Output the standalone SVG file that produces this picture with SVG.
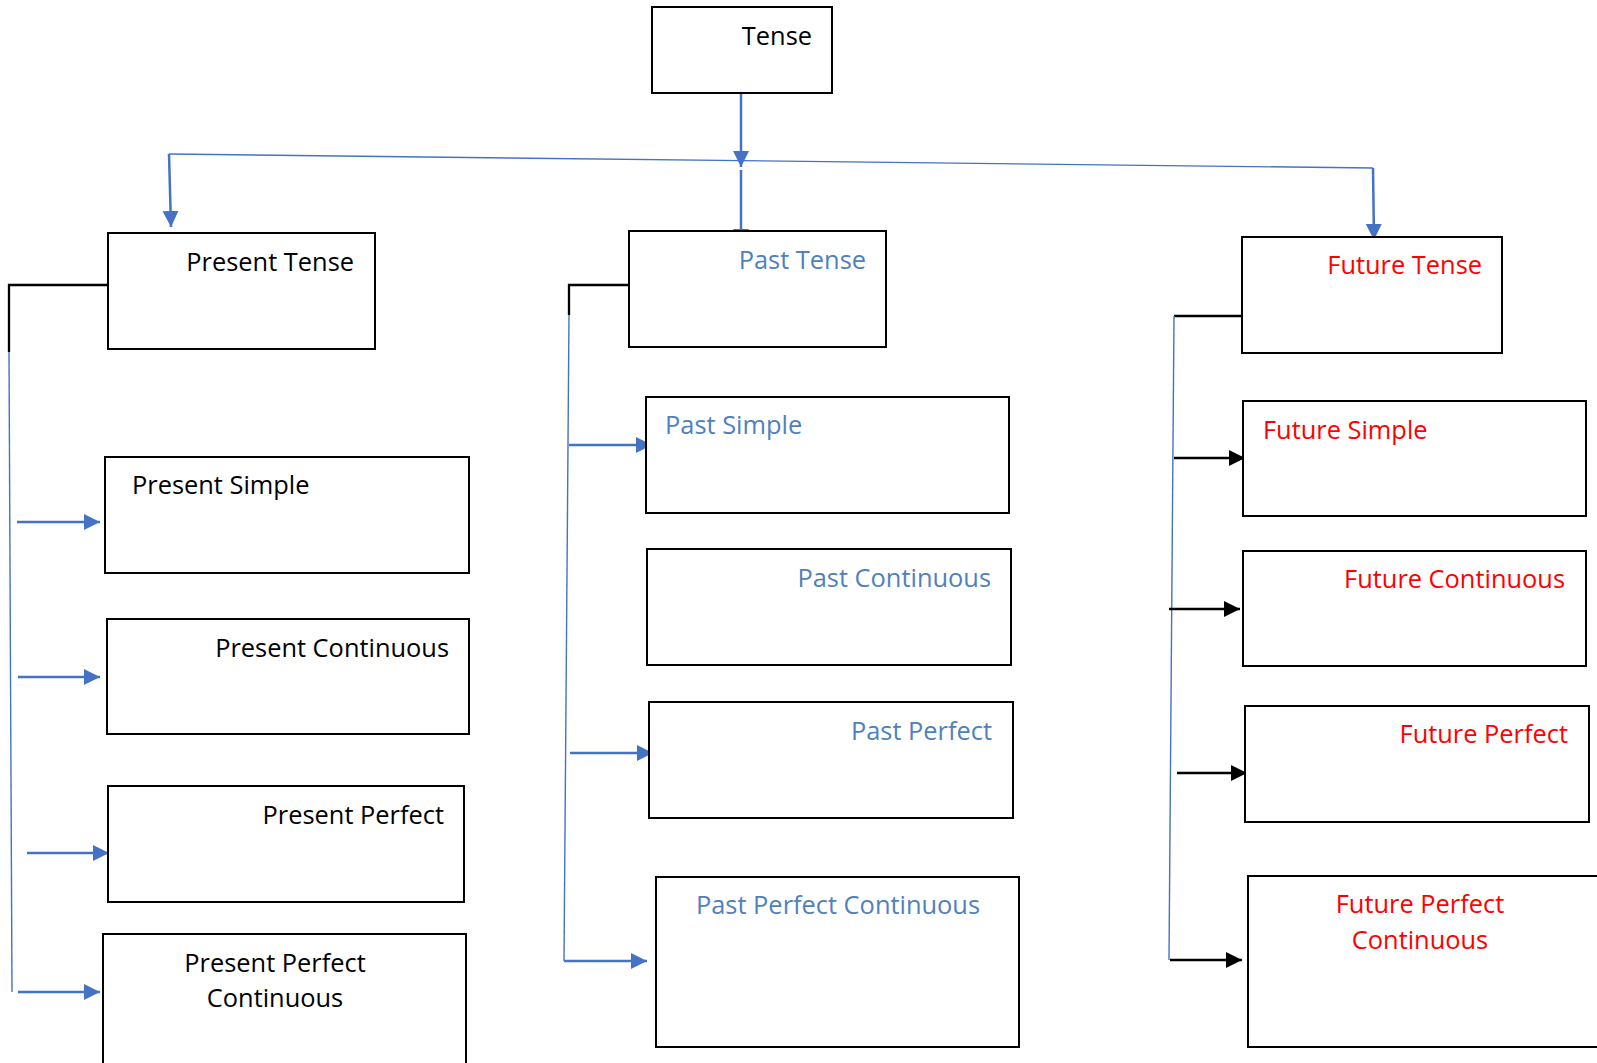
<svg xmlns="http://www.w3.org/2000/svg" width="1597" height="1063" viewBox="0 0 1597 1063">
<style>
.box{fill:#fff;stroke:#000;stroke-width:2}
.t{font-family:"Open Sans","Noto Sans",sans-serif;font-size:25.4px}
.k{fill:#000}.b{fill:#4F81BD}.r{fill:#FF0000}
.cb{fill:none;stroke:#4472C4;stroke-width:2.5}
.cbt{fill:none;stroke:#4472C4;stroke-width:1.4}
.ck{fill:none;stroke:#000;stroke-width:2.3}
</style>
<defs>
<marker id="ab" markerUnits="userSpaceOnUse" markerWidth="17" markerHeight="17" viewBox="0 0 17 17" refX="16" refY="8.5" orient="auto"><path d="M0,0.5 L16,8.5 L0,16.5 Z" fill="#4472C4"/></marker>
<marker id="ak" markerUnits="userSpaceOnUse" markerWidth="17" markerHeight="17" viewBox="0 0 17 17" refX="16" refY="8.5" orient="auto"><path d="M0,0.5 L16,8.5 L0,16.5 Z" fill="#000"/></marker>
</defs>
<g id="connectors">
<line class="cb" x1="741" y1="93" x2="741" y2="167" marker-end="url(#ab)"/>
<line class="cbt" x1="169" y1="154" x2="1373" y2="168"/>
<line class="cb" x1="169" y1="154" x2="171" y2="227" marker-end="url(#ab)"/>
<line class="cb" x1="741" y1="170" x2="741" y2="245" marker-end="url(#ab)"/>
<line class="cb" x1="1373" y1="168" x2="1374" y2="240" marker-end="url(#ab)"/>
<polyline class="ck" points="108,285 9,285 9,352"/>
<line class="cbt" x1="9" y1="352" x2="12" y2="992"/>
<line class="cb" x1="17" y1="522" x2="100" y2="522" marker-end="url(#ab)"/>
<line class="cb" x1="18" y1="677" x2="100" y2="677" marker-end="url(#ab)"/>
<line class="cb" x1="27" y1="853" x2="109" y2="853" marker-end="url(#ab)"/>
<line class="cb" x1="18" y1="992" x2="100" y2="992" marker-end="url(#ab)"/>
<polyline class="ck" points="629,285 569,285 569,315"/>
<line class="cbt" x1="569" y1="315" x2="564" y2="961"/>
<line class="cb" x1="569" y1="445" x2="652" y2="445" marker-end="url(#ab)"/>
<line class="cb" x1="570" y1="753" x2="653" y2="753" marker-end="url(#ab)"/>
<line class="cb" x1="564" y1="961" x2="647" y2="961" marker-end="url(#ab)"/>
<line class="ck" x1="1242" y1="316" x2="1174" y2="316"/>
<line class="cbt" x1="1174" y1="316" x2="1169" y2="960"/>
<line class="ck" x1="1174" y1="458" x2="1245" y2="458" marker-end="url(#ak)"/>
<line class="ck" x1="1169" y1="609" x2="1240" y2="609" marker-end="url(#ak)"/>
<line class="ck" x1="1177" y1="773" x2="1247" y2="773" marker-end="url(#ak)"/>
<line class="ck" x1="1170" y1="960" x2="1242" y2="960" marker-end="url(#ak)"/>
</g>
<g id="tense"><rect class="box" x="652" y="7" width="180" height="86"/><text class="t k" x="812" y="45" text-anchor="end">Tense</text></g>
<g id="present-tense"><rect class="box" x="108" y="233" width="267" height="116"/><text class="t k" x="354" y="271" text-anchor="end">Present Tense</text></g>
<g id="present-simple"><rect class="box" x="105" y="457" width="364" height="116"/><text class="t k" x="132" y="494">Present Simple</text></g>
<g id="present-continuous"><rect class="box" x="107" y="619" width="362" height="115"/><text class="t k" x="449" y="657" text-anchor="end">Present Continuous</text></g>
<g id="present-perfect"><rect class="box" x="108" y="786" width="356" height="116"/><text class="t k" x="444" y="824" text-anchor="end">Present Perfect</text></g>
<g id="present-perfect-continuous"><rect class="box" x="103" y="934" width="363" height="140"/><text class="t k" x="275" y="972" text-anchor="middle">Present Perfect</text><text class="t k" x="275" y="1007" text-anchor="middle">Continuous</text></g>
<g id="past-tense"><rect class="box" x="629" y="231" width="257" height="116"/><text class="t b" x="866" y="269" text-anchor="end">Past Tense</text></g>
<g id="past-simple"><rect class="box" x="646" y="397" width="363" height="116"/><text class="t b" x="665" y="434">Past Simple</text></g>
<g id="past-continuous"><rect class="box" x="647" y="549" width="364" height="116"/><text class="t b" x="991" y="587" text-anchor="end">Past Continuous</text></g>
<g id="past-perfect"><rect class="box" x="649" y="702" width="364" height="116"/><text class="t b" x="992" y="740" text-anchor="end">Past Perfect</text></g>
<g id="past-perfect-continuous"><rect class="box" x="656" y="877" width="363" height="170"/><text class="t b" x="838" y="914" text-anchor="middle">Past Perfect Continuous</text></g>
<g id="future-tense"><rect class="box" x="1242" y="237" width="260" height="116"/><text class="t r" x="1482" y="274" text-anchor="end">Future Tense</text></g>
<g id="future-simple"><rect class="box" x="1243" y="401" width="343" height="115"/><text class="t r" x="1263" y="439">Future Simple</text></g>
<g id="future-continuous"><rect class="box" x="1243" y="551" width="343" height="115"/><text class="t r" x="1565" y="588" text-anchor="end">Future Continuous</text></g>
<g id="future-perfect"><rect class="box" x="1245" y="706" width="344" height="116"/><text class="t r" x="1568" y="743" text-anchor="end">Future Perfect</text></g>
<g id="future-perfect-continuous"><rect class="box" x="1248" y="876" width="360" height="171"/><text class="t r" x="1420" y="913" text-anchor="middle">Future Perfect</text><text class="t r" x="1420" y="949" text-anchor="middle">Continuous</text></g>
</svg>
